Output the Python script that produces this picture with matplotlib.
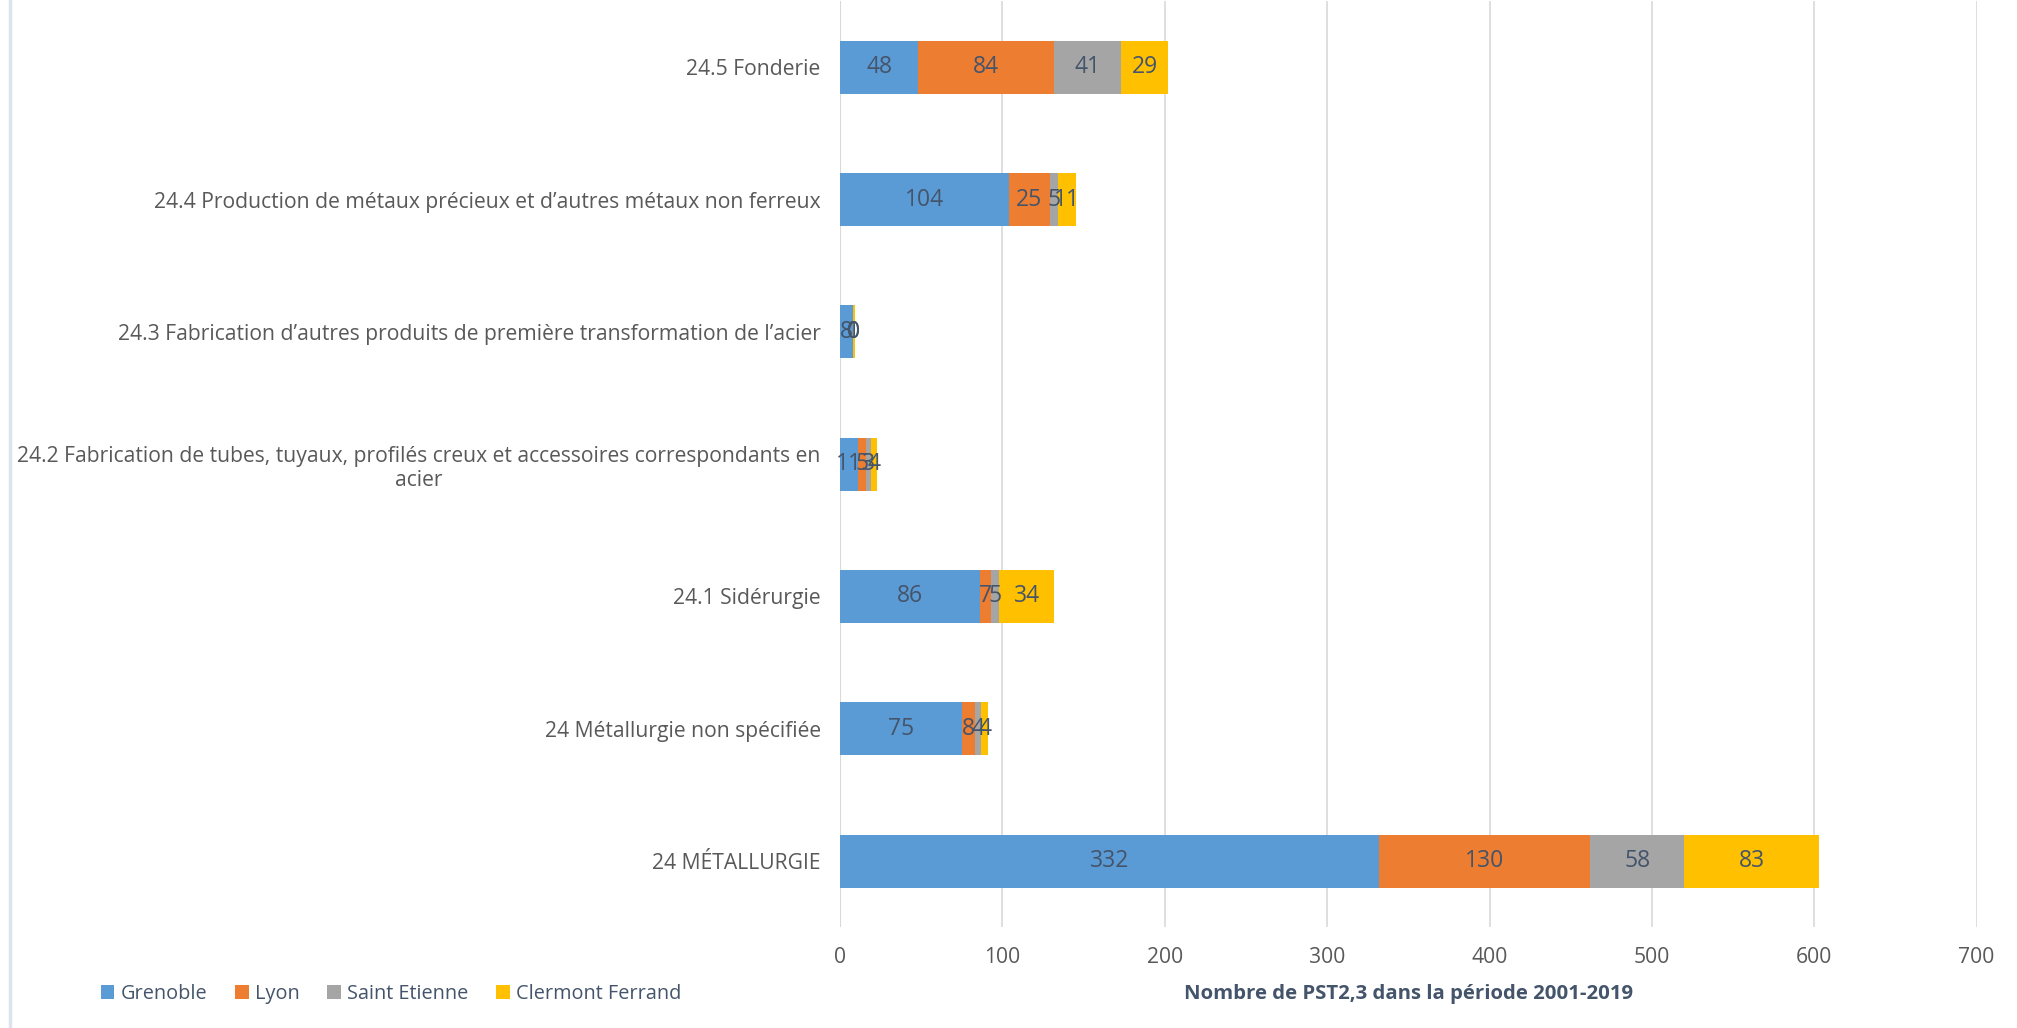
import numpy as np
import matplotlib.pyplot as plt
from matplotlib.lines import Line2D

plt.rcParams['font.family'] = ['Open Sans', 'DejaVu Sans']

categories = ['24 MÉTALLURGIE',
              '24 Métallurgie non spécifiée',
              '24.1 Sidérurgie',
              '24.2 Fabrication de tubes, tuyaux, profilés creux et accessoires correspondants en\nacier',
              '24.3 Fabrication d\u2019autres produits de première transformation de l\u2019acier',
              '24.4 Production de métaux précieux et d\u2019autres métaux non ferreux',
              '24.5 Fonderie']
series_names = ['Grenoble', 'Lyon', 'Saint Etienne', 'Clermont Ferrand']
grenoble = [332, 75, 86, 11, 8, 104, 48]
lyon = [130, 8, 7, 5, 0, 25, 84]
saint_etienne = [58, 4, 5, 3, 0, 5, 41]
clermont = [83, 4, 34, 4, 1, 11, 29]
colors = ['#5B9BD5', '#ED7D31', '#A5A5A5', '#FFC000']
xticks = [0, 100, 200, 300, 400, 500, 600, 700]

fig = plt.figure(figsize=(20.17, 10.28), dpi=100)
ax = fig.add_axes([0.4165, 0.098, 0.5635, 0.901])

y = np.arange(len(categories))
left = np.zeros(len(categories))
for name, vals, c in zip(series_names, [grenoble, lyon, saint_etienne, clermont], colors):
    vals = np.array(vals, dtype=float)
    bars = ax.barh(y, vals, left=left, height=0.4, color=c, label=name, zorder=3)
    for b, v in zip(bars, vals):
        ax.text(b.get_x() + b.get_width() / 2, b.get_y() + b.get_height() / 2,
                '%d' % v, ha='center', va='center', fontsize=16.5,
                color='#44546A', zorder=4)
    left += vals

ax.set_xlim(0, 700)
ax.set_ylim(-0.5, len(categories) - 0.5)
ax.set_xticks(xticks)
ax.set_yticks(y)
ax.set_yticklabels(categories, multialignment='center')
ax.tick_params(axis='both', length=0, labelsize=15.2, colors='#595959')
ax.tick_params(axis='x', pad=14)
ax.tick_params(axis='y', pad=14)
ax.grid(axis='x', color='#D9D9D9', linewidth=1.2, zorder=0)
for s in ax.spines.values():
    s.set_visible(False)
ax.axvline(0, color='#D9D9D9', linewidth=1.5, zorder=1)
ax.set_xlabel('Nombre de PST2,3 dans la période 2001-2019', fontsize=14.7,
              fontweight='bold', color='#44546A', labelpad=12)

fig.legend(loc='lower left', bbox_to_anchor=(0.041, 0.006), ncol=4, frameon=False,
           fontsize=14.3, handlelength=0.7, handleheight=0.7, handletextpad=0.3,
           columnspacing=1.4, labelcolor='#44546A')

fig.add_artist(Line2D([0.0052, 0.0052], [0, 1], color='#DCE3EE', linewidth=2.5))

fig.savefig('out.png', dpi=100)
